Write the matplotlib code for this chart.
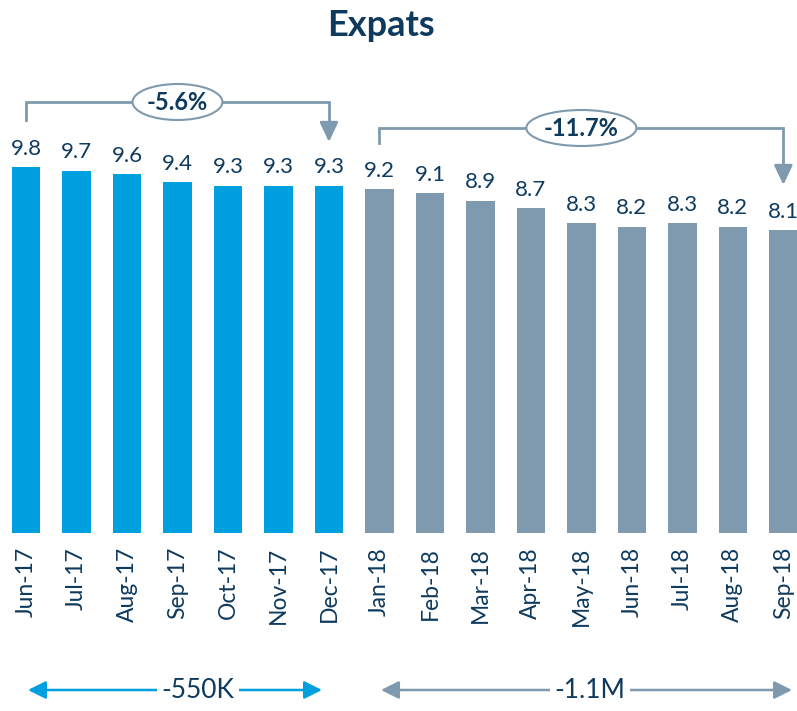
import matplotlib
matplotlib.use("Agg")
import matplotlib.pyplot as plt
from matplotlib.patches import Ellipse
from matplotlib.transforms import blended_transform_factory
import numpy as np

plt.rcParams['font.family'] = ['Lato', 'DejaVu Sans']

months = ["Jun-17", "Jul-17", "Aug-17", "Sep-17", "Oct-17", "Nov-17", "Dec-17",
          "Jan-18", "Feb-18", "Mar-18", "Apr-18", "May-18", "Jun-18", "Jul-18",
          "Aug-18", "Sep-18"]
values = [9.8, 9.7, 9.6, 9.4, 9.3, 9.3, 9.3, 9.2, 9.1, 8.9, 8.7, 8.3, 8.2, 8.3, 8.2, 8.1]
n_2017 = 7
change_labels = ["-5.6%", "-11.7%"]
total_labels = ["-550K", "-1.1M"]

blue = "#009FE0"
grey = "#7F9AAE"
navy = "#0E3A5E"

fig = plt.figure(figsize=(7.97, 7.11), dpi=100)
ax = fig.add_axes([0, 1 - 533 / 711, 1, 533 / 711])

x = np.arange(len(values))
colors = [blue] * n_2017 + [grey] * (len(values) - n_2017)
ax.bar(x, values, width=0.56, color=colors)
ax.set_xlim(-0.515, 15.27)
ax.set_ylim(0, 14.27)

for xi, v in zip(x, values):
    ax.annotate(f"{v:.1f}", (xi, v), xytext=(0, 6), textcoords="offset points",
                ha="center", va="bottom", fontsize=16, color=navy)

ax.set_xticks(x)
ax.set_xticklabels(months, rotation=90, fontsize=16.5, color=navy)
ax.tick_params(axis="x", length=0, pad=10)
ax.set_yticks([])
for s in ax.spines.values():
    s.set_visible(False)

fig.text(381 / 797, 1 - 25 / 711, "Expats", ha="center", va="center",
         fontsize=26, fontweight="bold", color=navy)

# brackets at top (x in data, y in figure pixels)
tr = blended_transform_factory(ax.transData, fig.transFigure)
def fy(p):
    return 1 - p / 711

brackets = [(0, 6, 120, 102, 142, 3.0, change_labels[0], 1.78),
            (7, 15, 143, 128, 185, 11.0, change_labels[1], 2.18)]
for x0, x1, ystart, ytop, ytip, xc, lab, w in brackets:
    ax.plot([x0, x0, x1, x1], [fy(ystart), fy(ytop), fy(ytop), fy(ytip - 14)],
            transform=tr, color=grey, lw=2.0, clip_on=False,
            solid_joinstyle="miter")
    ax.annotate("", xy=(x1, fy(ytip)), xycoords=tr,
                xytext=(x1, fy(ytip - 16)), textcoords=tr,
                arrowprops=dict(arrowstyle="-|>,head_length=0.85,head_width=0.4",
                                color=grey, lw=2.0, mutation_scale=14,
                                shrinkA=0, shrinkB=0))
    e = Ellipse((xc, fy(ytop)), w, 36 / 711, transform=tr, facecolor="white",
                edgecolor=grey, lw=1.5, clip_on=False, zorder=3)
    ax.add_patch(e)
    ax.text(xc, fy(ytop), lab, transform=tr, ha="center", va="center",
            fontsize=17, fontweight="bold", color=navy, zorder=4)

# bottom double arrows
arrows = [(28, 322, 198, blue, total_labels[0]),
          (381, 792, 590, grey, total_labels[1])]
for px0, px1, pxc, c, lab in arrows:
    ax.annotate("", xy=(px1 / 797, fy(690)), xycoords="figure fraction",
                xytext=(px0 / 797, fy(690)), textcoords="figure fraction",
                arrowprops=dict(arrowstyle="<|-|>,head_length=0.9,head_width=0.45",
                                color=c, lw=1.8, mutation_scale=12,
                                shrinkA=0, shrinkB=0))
    fig.text(pxc / 797, fy(690), lab, ha="center", va="center", fontsize=19,
             color=navy, bbox=dict(facecolor="white", edgecolor="none", pad=3))

fig.savefig("out.png", dpi=100)
